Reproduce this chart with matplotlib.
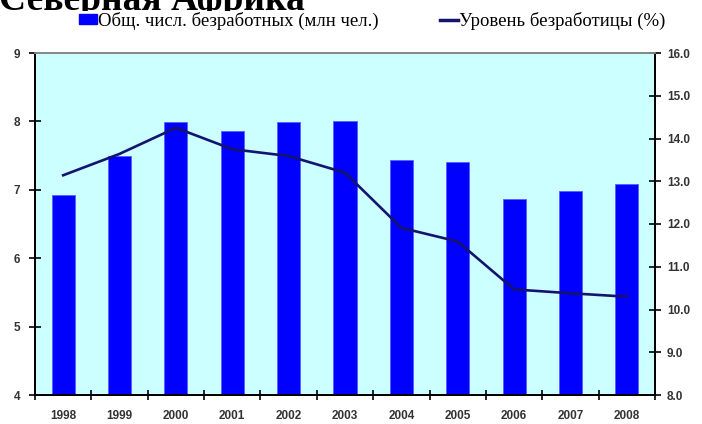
import matplotlib
matplotlib.use( 'Agg' )
import matplotlib.pyplot as plt
from matplotlib.patches import Patch
from matplotlib.lines import Line2D
from matplotlib.transforms import Bbox, TransformedBbox

# data
years = ['1998', '1999', '2000', '2001', '2002', '2003', '2004', '2005', '2006', '2007', '2008']
unemployed_mln = [6.93, 7.49, 7.99, 7.86, 7.99, 8.01, 7.43, 7.41, 6.87, 6.98, 7.09]
unemployment_rate = [13.14, 13.64, 14.25, 13.75, 13.59, 13.20, 11.91, 11.59, 10.47, 10.38, 10.30]

title = 'Северная Африка'
label_bars = 'Общ. числ. безработных (млн чел.)'
label_line = 'Уровень безработицы (%)'

bar_color = '#0000FF'
line_color = '#14146E'
bg_color = '#CCFFFF'
tick_font = { 'family': 'Liberation Sans', 'weight': 'bold', 'size': 8.5, 'color': '#333333' }

fig = plt.figure( figsize=( 7.02, 4.24 ), dpi=100 )
ax = fig.add_axes( [35 / 702, 1 - 395 / 424, 620 / 702, 342 / 424] )
ax.set_facecolor( bg_color )

x = list( range( len( years ) ) )
ax.bar( x, unemployed_mln, width=0.41, color=bar_color, edgecolor='#5C5CFF', linewidth=0.6, zorder=2 )
ax.set_ylim( 4, 9 )
ax.set_xlim( -0.5, len( years ) - 0.5 )
ax.set_yticks( [4, 5, 6, 7, 8, 9] )

# x ticks sit between categories, labels at centers
ax.set_xticks( [i - 0.5 for i in range( len( years ) + 1 )] )
ax.set_xticklabels( [] )
ax.set_xticks( x, minor=True )
ax.set_xticklabels( years, minor=True, fontdict=tick_font )
ax.tick_params( axis='x', which='minor', length=0, pad=11 )
ax.tick_params( axis='x', which='major', direction='inout', length=7, width=1.2 )
ax.tick_params( axis='y', direction='inout', length=8, width=1.2, pad=6.5 )
ax.set_yticklabels( [str( v ) for v in range( 4, 10 )], fontdict=tick_font )

ax2 = ax.twinx()
ax2.plot( x, unemployment_rate, color=line_color, linewidth=1.9, zorder=3 )
ax2.set_ylim( 8, 16 )
ax2.set_yticks( [8, 9, 10, 11, 12, 13, 14, 15, 16] )
ax2.set_yticklabels( ['%.1f' % v for v in range( 8, 17 )], fontdict=tick_font )
ax2.tick_params( axis='y', direction='inout', length=8, width=1.2, pad=4.5 )

for a in ( ax, ax2 ):
    for side in ( 'left', 'right', 'bottom' ):
        a.spines[side].set_linewidth( 1.3 )
        a.spines[side].set_color( 'black' )
    a.spines['top'].set_color( '#888888' )
    a.spines['top'].set_linewidth( 1.3 )

# title is cut off in the source: only a thin strip at the top shows
cut = 1 - 10.5 / 424
t = fig.text( -0.002, cut, title, fontsize=27, fontweight='bold',
              family='Liberation Serif', va='baseline', ha='left' )
t.set_clip_box( TransformedBbox( Bbox( [[0, cut], [1, 1]] ), fig.transFigure ) )
t.set_clip_on( True )

handles = [
    Patch( facecolor=bar_color, edgecolor=bar_color ),
    Line2D( [0], [0], color=line_color, linewidth=2.5 ),
]
fig.legend( handles, [label_bars, label_line], ncol=2, frameon=False,
            loc='center left', bbox_to_anchor=( 79 / 702, 1 - 21 / 424 ),
            prop={ 'family': 'Liberation Serif', 'size': 13.5 },
            handlelength=0.95, handleheight=0.45, handletextpad=0.05,
            columnspacing=3.3, borderpad=0, borderaxespad=0 )

fig.savefig( 'out.png', dpi=100 )
